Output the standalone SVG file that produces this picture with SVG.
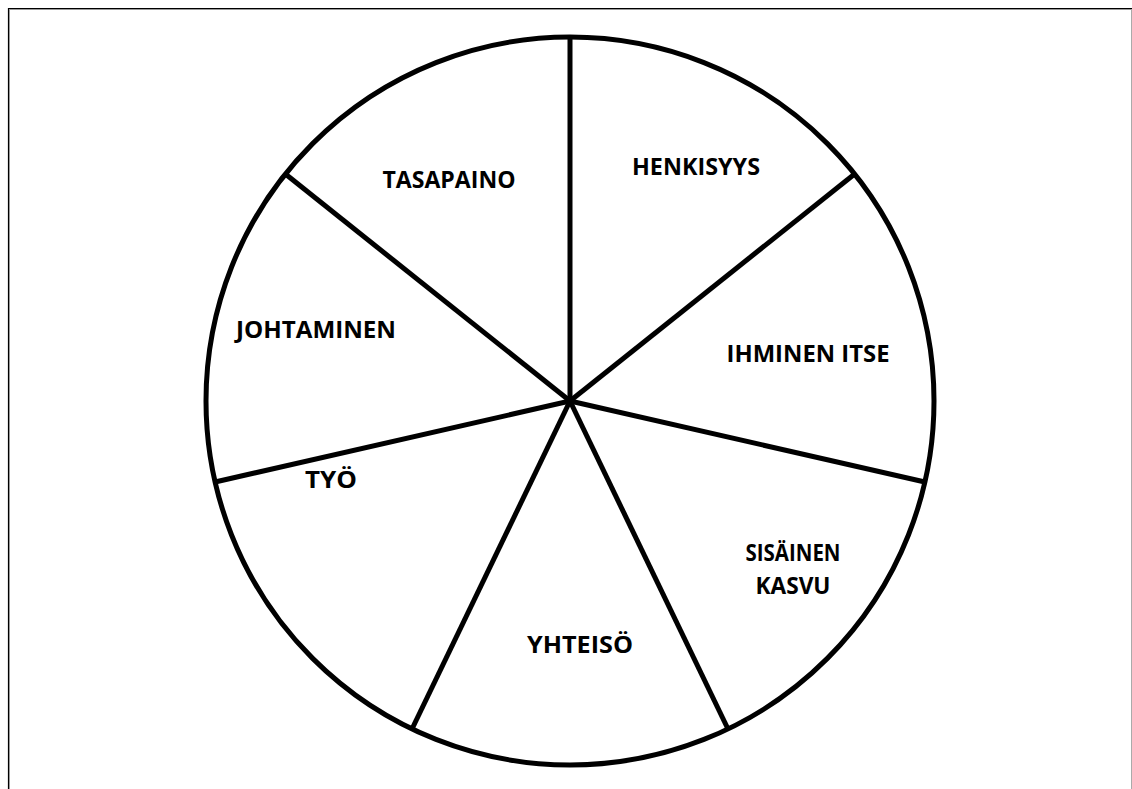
<svg xmlns="http://www.w3.org/2000/svg" width="1132" height="789" viewBox="0 0 1132 789">
<style>
.lbl{font-family:"Open Sans","Liberation Sans",sans-serif;font-weight:bold;font-size:23px;fill:#000;text-anchor:middle}
.spoke{stroke:#000;stroke-width:5;fill:none;stroke-linecap:butt}
</style>
<rect width="1132" height="789" fill="#fff"/>
<g id="frame">
<line x1="8.5" y1="8" x2="8.5" y2="789" stroke="#000" stroke-width="1.2"/>
<line x1="9.5" y1="9" x2="9.5" y2="789" stroke="#999" stroke-width="1"/>
<line x1="8" y1="8.5" x2="1132" y2="8.5" stroke="#000" stroke-width="1.2"/>
<line x1="9" y1="9.5" x2="1132" y2="9.5" stroke="#999" stroke-width="1"/>
<line x1="1131.5" y1="9" x2="1131.5" y2="789" stroke="#aaa" stroke-width="1"/>
</g>
<g id="wheel">
<circle cx="570" cy="401" r="364" fill="none" stroke="#000" stroke-width="5"/>
</g>
<g id="connectors">
<line class="spoke" x1="570" y1="401" x2="570" y2="37"/>
<line class="spoke" x1="570" y1="401" x2="854.6" y2="174"/>
<line class="spoke" x1="570" y1="401" x2="924.9" y2="482"/>
<line class="spoke" x1="570" y1="401" x2="728" y2="729"/>
<line class="spoke" x1="570" y1="401" x2="412" y2="729"/>
<line class="spoke" x1="570" y1="401" x2="215.1" y2="482"/>
<line class="spoke" x1="570" y1="401" x2="285.4" y2="174"/>
</g>
<g id="n-henkisyys"><text class="lbl" x="696" y="175" textLength="128" lengthAdjust="spacingAndGlyphs">HENKISYYS</text></g>
<g id="n-tasapaino"><text class="lbl" x="449" y="188" textLength="133" lengthAdjust="spacingAndGlyphs">TASAPAINO</text></g>
<g id="n-johtaminen"><text class="lbl" x="316" y="338" textLength="160" lengthAdjust="spacingAndGlyphs">JOHTAMINEN</text></g>
<g id="n-ihminen"><text class="lbl" x="808" y="362" textLength="163" lengthAdjust="spacingAndGlyphs">IHMINEN ITSE</text></g>
<g id="n-tyo"><text class="lbl" x="331" y="488" textLength="52" lengthAdjust="spacingAndGlyphs">TYÖ</text></g>
<g id="n-sisainen"><text class="lbl" x="793" y="561" textLength="95" lengthAdjust="spacingAndGlyphs">SISÄINEN</text><text class="lbl" x="793" y="594" textLength="75" lengthAdjust="spacingAndGlyphs">KASVU</text></g>
<g id="n-yhteiso"><text class="lbl" x="580" y="653" textLength="106" lengthAdjust="spacingAndGlyphs">YHTEISÖ</text></g>
</svg>
